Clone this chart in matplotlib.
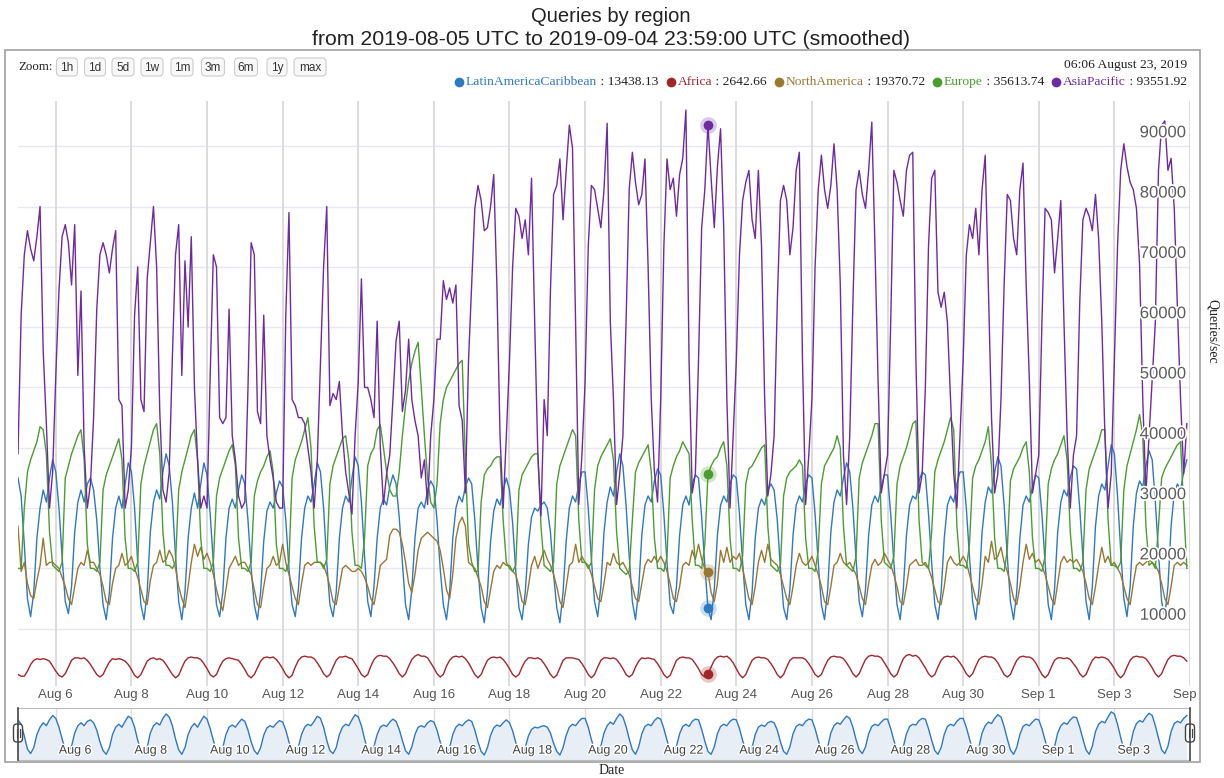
import numpy as np
import matplotlib.pyplot as plt
import matplotlib.patheffects as pe
import matplotlib.transforms as mtransforms
from matplotlib.patches import Rectangle, FancyBboxPatch

# Values every 2 hours (00h, 02h, ... 22h UTC), in thousands of queries/sec.
# One row per day, starting 2019-08-05.
latam = [
    [35, 32, 24, 15, 12, 16, 25, 30, 33, 31, 35, 38],
    [36, 30, 22, 14.5, 12.5, 17, 26, 31, 33, 31, 34, 35],
    [33, 28, 20, 14, 11.5, 16, 25, 30, 32, 30, 34, 37.5],
    [36, 30, 21, 14, 11.5, 16, 26, 31, 33, 31.5, 36, 39],
    [37, 31, 22, 14.5, 11.5, 16, 25, 30, 32.5, 30, 34, 37.5],
    [35.5, 29, 21, 14, 12, 16, 25, 30, 31.5, 30, 33, 35.5],
    [34, 28, 20, 14, 11.5, 16, 24.5, 29.5, 31, 30, 32.5, 34.5],
    [33.5, 28, 20, 14, 12, 16.5, 25, 30, 32, 31, 34, 37.5],
    [36, 30, 21, 14, 12, 16, 25, 30, 32, 31, 35, 38.5],
    [37, 31, 22, 14.5, 12, 17, 25, 30, 31.5, 30.5, 33.5, 35.5],
    [34, 28.5, 21, 14, 11.5, 16.5, 25, 30, 31, 30, 33, 34.5],
    [33.5, 28, 20, 14, 11.5, 16, 25, 30, 32, 31, 33.5, 35],
    [34, 28, 20, 13.5, 11, 16, 24.5, 29.5, 31.5, 30.5, 33, 35],
    [33, 27.5, 19.5, 13.5, 11.5, 16, 24, 28.5, 30, 29.5, 30.5, 31],
    [30, 26, 19, 13.5, 11, 16, 24.5, 30, 32, 31, 34, 36],
    [36, 30, 21.5, 14.5, 12, 17, 26, 31, 33.5, 32, 36, 39],
    [37, 30.5, 22, 14.5, 11.5, 16.5, 25.5, 30.5, 32, 31, 34.5, 36.5],
    [35.5, 29, 21, 14, 12.5, 17, 25.5, 30.5, 32, 30.5, 34, 35.5],
    [35, 28.5, 20.5, 13.4, 11.5, 16.5, 25.5, 30.5, 32, 31, 34, 35.5],
    [35, 29, 21, 14, 11.5, 16, 25, 30, 31.5, 30.5, 33, 34],
    [33, 28, 20, 13.5, 11.5, 16.5, 25.5, 30.5, 32, 31, 34, 35.5],
    [35, 29, 21, 14, 11.5, 16.5, 26, 31, 33, 32, 35, 37.5],
    [36, 30, 21.5, 14.5, 12, 16.5, 25.5, 30.5, 32, 31, 33.5, 35.5],
    [35.5, 29, 21, 14, 11.5, 16.5, 25.5, 30.5, 32, 31.5, 34.5, 36],
    [35.5, 29, 21, 14, 11.5, 16, 25, 30.5, 32, 31, 34, 36],
    [36, 30, 22, 14.5, 11.5, 16.5, 26, 31, 33.5, 32.5, 36, 38.5],
    [37, 30.5, 22, 14.5, 11.5, 16, 25, 30.5, 32, 31, 33.5, 35.5],
    [35, 29, 21, 14, 11.5, 16.5, 26, 31, 33, 32, 35, 37],
    [36.5, 30, 22, 14.5, 11.5, 17, 27, 32, 34, 33, 37, 40.5],
    [39, 32, 23, 15, 12, 17, 27, 32.5, 34.5, 33.5, 37, 39.5],
    [38, 31, 22.5, 14.5, 12, 17, 27, 32.5, 34, 33, 36, 38],
]

africa = [
    [2.6, 2.4, 2.4, 3.0, 3.8, 4.3, 4.5, 4.4, 4.5, 4.4, 4.2, 3.6],
    [3.0, 2.5, 2.3, 2.7, 3.5, 4.3, 4.6, 4.6, 4.5, 4.6, 4.3, 3.8],
    [3.2, 2.6, 2.3, 2.6, 3.4, 4.1, 4.5, 4.4, 4.5, 4.4, 4.2, 3.8],
    [3.2, 2.5, 2.2, 2.6, 3.4, 4.2, 4.5, 4.6, 4.4, 4.5, 4.3, 3.8],
    [3.2, 2.6, 2.2, 2.5, 3.4, 4.2, 4.6, 4.7, 4.6, 4.6, 4.4, 3.9],
    [3.3, 2.6, 2.3, 2.6, 3.5, 4.2, 4.5, 4.6, 4.5, 4.4, 4.3, 3.8],
    [3.2, 2.5, 2.2, 2.6, 3.4, 4.2, 4.6, 4.7, 4.6, 4.7, 4.4, 3.9],
    [3.3, 2.6, 2.2, 2.5, 3.5, 4.3, 4.7, 4.8, 4.7, 4.7, 4.5, 4.0],
    [3.4, 2.7, 2.3, 2.6, 3.5, 4.3, 4.7, 4.7, 4.8, 4.6, 4.5, 3.9],
    [3.3, 2.6, 2.3, 2.6, 3.6, 4.4, 4.8, 4.9, 4.8, 4.8, 4.5, 4.0],
    [3.4, 2.7, 2.3, 2.7, 3.6, 4.4, 4.8, 5.0, 4.8, 4.8, 4.6, 4.0],
    [3.4, 2.7, 2.3, 2.6, 3.6, 4.3, 4.7, 4.8, 4.7, 4.8, 4.5, 4.0],
    [3.3, 2.6, 2.2, 2.6, 3.5, 4.3, 4.6, 4.7, 4.6, 4.7, 4.4, 3.9],
    [3.3, 2.6, 2.3, 2.6, 3.5, 4.2, 4.6, 4.6, 4.5, 4.6, 4.4, 3.9],
    [3.3, 2.6, 2.2, 2.5, 3.4, 4.3, 4.6, 4.6, 4.6, 4.5, 4.4, 3.9],
    [3.3, 2.6, 2.2, 2.6, 3.5, 4.3, 4.6, 4.6, 4.5, 4.6, 4.4, 3.9],
    [3.3, 2.6, 2.3, 2.6, 3.5, 4.2, 4.6, 4.5, 4.6, 4.5, 4.4, 3.9],
    [3.3, 2.6, 2.2, 2.5, 3.4, 4.3, 4.6, 4.7, 4.6, 4.6, 4.4, 3.9],
    [3.3, 2.6, 2.3, 2.64, 3.5, 4.3, 4.7, 4.8, 4.7, 4.8, 4.5, 4.0],
    [3.3, 2.6, 2.2, 2.6, 3.5, 4.3, 4.6, 4.7, 4.6, 4.6, 4.4, 3.9],
    [3.3, 2.6, 2.2, 2.6, 3.5, 4.3, 4.6, 4.6, 4.6, 4.6, 4.4, 3.9],
    [3.3, 2.6, 2.3, 2.6, 3.5, 4.3, 4.7, 4.8, 4.7, 4.7, 4.5, 4.0],
    [3.4, 2.7, 2.3, 2.7, 3.6, 4.4, 4.8, 4.9, 4.8, 4.8, 4.6, 4.0],
    [3.4, 2.7, 2.3, 2.6, 3.6, 4.5, 4.9, 5.0, 4.8, 4.9, 4.6, 4.0],
    [3.4, 2.7, 2.3, 2.6, 3.5, 4.3, 4.7, 4.8, 4.7, 4.8, 4.5, 4.0],
    [3.4, 2.7, 2.3, 2.7, 3.6, 4.4, 4.7, 4.8, 4.7, 4.7, 4.5, 4.0],
    [3.3, 2.6, 2.3, 2.6, 3.5, 4.3, 4.7, 4.8, 4.7, 4.7, 4.5, 4.0],
    [3.3, 2.6, 2.2, 2.6, 3.5, 4.3, 4.6, 4.6, 4.5, 4.6, 4.4, 3.9],
    [3.4, 2.7, 2.3, 2.6, 3.5, 4.3, 4.7, 4.6, 4.7, 4.6, 4.4, 3.9],
    [3.3, 2.6, 2.2, 2.6, 3.5, 4.3, 4.7, 4.8, 4.7, 4.7, 4.5, 4.0],
    [3.4, 2.7, 2.3, 2.7, 3.6, 4.4, 4.8, 4.9, 4.8, 4.8, 4.6, 4.2],
]

north_america = [
    [27, 19.5, 21, 17.5, 15.5, 15, 18, 20.5, 25, 20.5, 21, 21],
    [20.5, 20, 18.5, 17, 15, 14, 17, 20, 21, 20.5, 23, 21],
    [21, 20, 19, 17, 14.5, 14, 17.5, 20, 20.5, 22.5, 20.5, 21],
    [22, 20, 18.5, 16.5, 14.5, 14, 18, 20.5, 21, 23, 21, 21.5],
    [23, 22, 20, 17, 15, 13.5, 17, 21, 24, 22, 23.5, 21.5],
    [22.5, 21, 19, 16.5, 14.5, 13, 16.5, 20, 21, 22, 20.5, 21],
    [21, 20, 19, 16.5, 14, 13.5, 17, 20, 20.5, 22, 20.5, 21],
    [24, 21, 19, 17, 15, 14, 17.5, 20.5, 21, 20.5, 21, 21],
    [21, 20.5, 19, 17, 14.5, 14, 17, 20, 20.5, 20, 19.5, 19.5],
    [20, 19.5, 18.5, 17, 15, 14, 17, 20.5, 21, 21.5, 25.5, 26.5],
    [26.5, 26, 24, 21, 17.5, 16, 19, 23, 25, 25.5, 26, 25.5],
    [25, 24.5, 23, 20, 16.5, 15, 19, 25, 27.5, 28.5, 27, 21],
    [20.5, 20, 18.5, 17, 14.5, 13.5, 16.5, 19.5, 20.5, 20, 21, 20.5],
    [20.5, 19.5, 19, 17, 14.5, 14, 17, 20.5, 22, 20, 21.5, 23],
    [21.5, 20.5, 19, 17, 14.5, 13.5, 17, 20.5, 21, 24, 21, 22],
    [21, 20.5, 19, 17, 15, 14.5, 17.5, 21, 20.5, 22.5, 21, 20.5],
    [21, 20, 19, 17, 15, 14.5, 17.5, 20.5, 21.5, 21, 22, 21],
    [22, 21, 19.5, 17.5, 15, 14.5, 17, 20.5, 21, 20.5, 23, 21.5],
    [24, 21.5, 20, 19.4, 16, 14.5, 17.5, 23, 21, 23.5, 21, 22],
    [21.5, 22.5, 20, 17.5, 15, 14, 17, 21, 23, 21, 24, 21.5],
    [21, 20.5, 19, 17, 15, 14, 17, 20.5, 22.5, 21, 20.5, 21],
    [22, 20.5, 19, 17, 14.5, 14, 17, 20.5, 21, 22.5, 21, 20.5],
    [21, 20, 19, 17, 15, 14, 17.5, 20.5, 21.5, 20.5, 21, 22.5],
    [21.5, 20.5, 19, 17, 14.5, 14, 17, 20.5, 21, 21.5, 20.5, 20.5],
    [21, 20, 18.5, 16.5, 14.5, 14, 17, 21, 22, 21, 20.5, 21],
    [22, 21, 19, 17, 15, 14, 17.5, 22, 21, 24.5, 21.5, 22],
    [23.5, 21, 19.5, 17.5, 15, 14, 17, 21, 24, 21.5, 22.5, 21],
    [21.5, 20.5, 19, 17, 15, 14, 17.5, 21, 22, 21, 21.5, 21],
    [21.5, 20.5, 19.5, 17.5, 15, 14, 17, 20.5, 23.5, 21, 22, 20.5],
    [21, 20, 19, 17, 15, 14, 17.5, 20.5, 21, 20.5, 21, 21.5],
    [21, 20.5, 19.5, 17.5, 15, 14, 17, 20.5, 21, 20.5, 21, 20.5],
]

europe = [
    [20, 20, 30, 36, 38, 39.5, 41, 43.5, 43, 39, 26, 20.5],
    [20, 19.5, 21, 35, 37, 39, 40.5, 42, 43, 38, 24, 20],
    [20, 19.5, 21, 33, 35.5, 37, 38.5, 40, 41.5, 38, 25, 20],
    [20, 19.5, 21, 34, 37, 39, 41, 43, 44, 39, 26, 20.5],
    [20.5, 20, 21, 33, 36, 38, 40, 42, 43, 38, 25, 20],
    [20, 19.5, 21, 32, 35, 36.5, 38, 39.5, 40.5, 37, 25, 20],
    [20, 19.5, 21, 32, 34.5, 36, 37, 38.5, 39.5, 36, 24, 20],
    [20, 19.5, 21, 35, 38, 39.5, 41, 43, 45, 40, 27, 21],
    [21, 20, 21.5, 34, 37, 38.5, 40, 41.5, 42, 38, 26, 20.5],
    [20.5, 20, 25, 37, 39, 40, 43, 43.8, 40, 36, 33, 32],
    [32, 36, 42, 47, 51, 54, 56, 57.5, 50, 42, 35, 31],
    [30, 34, 44, 48, 50, 51, 52, 53, 54, 54.5, 38, 24],
    [21, 19.5, 19.5, 31, 35.5, 36.5, 37, 38, 38.5, 38.5, 28, 21],
    [20, 19.5, 20.5, 33, 35.5, 36.5, 37.5, 38.5, 39, 39, 27, 20.5],
    [20, 19.5, 21, 34, 37, 38.5, 40, 41.5, 43, 42, 28, 21],
    [21, 20, 21, 33, 37, 38.5, 39.5, 40.5, 41.5, 38, 26, 20],
    [19.5, 19, 19.5, 28, 36, 37.5, 38.5, 39.5, 40.5, 36, 25, 20],
    [20, 19.5, 22, 35, 37, 38.5, 39.5, 41, 40, 39, 28, 20.5],
    [20.5, 20, 24, 35.6, 37, 38, 38.5, 40, 41, 37, 25, 20],
    [20, 19.5, 22, 34, 36.5, 37, 38, 39, 40, 40.5, 27, 20.5],
    [20, 19.5, 20.5, 32, 35, 36, 36.5, 37, 38, 37, 25, 20],
    [20, 19.5, 23, 34, 37, 38, 39, 40, 42, 40, 27, 20.5],
    [20, 19.5, 22, 35, 37.5, 39, 40.5, 42, 44, 44, 28, 21],
    [20.5, 20, 22, 34, 37, 38.5, 40, 42, 44, 44.5, 28, 21],
    [20.5, 20, 26, 36, 38, 39.5, 41, 43, 45, 43, 27, 20.5],
    [20.5, 20, 24, 35, 37, 38, 39.5, 41, 43.5, 37, 25, 20],
    [20, 19.5, 23, 34.5, 36.5, 37.5, 38.5, 40, 41, 36, 25, 20],
    [20, 19.5, 22, 34, 36.5, 38, 39, 40.5, 42, 38, 26, 20],
    [20, 19.5, 21, 33, 36.5, 38, 39.5, 41, 43, 43, 28, 20.5],
    [20.5, 20, 21, 33, 37, 39, 41, 43, 45.5, 42, 27, 20.5],
    [21, 20, 27, 35, 36.5, 37.5, 38.5, 39.5, 40.5, 41, 30, 20],
]

asia_pacific = [
    [39, 62, 72, 76, 73, 71, 75, 80, 56, 44, 30, 36],
    [52, 66, 75, 77, 74, 67, 77, 52, 66, 40, 30, 34],
    [45, 63, 72, 74, 72, 69, 73, 76, 48, 47, 30, 33],
    [40, 62, 70, 48, 46, 68, 74, 80, 70, 46, 33, 31],
    [36, 55, 72, 77, 52, 71, 60, 75, 50, 38, 30, 32],
    [30, 52, 72, 70, 45, 44, 45, 63, 42, 38, 32, 30],
    [31, 50, 74, 72, 46, 44, 62, 42, 38, 35, 31, 30],
    [30, 62, 79, 48, 47, 45, 45, 44, 40, 36, 30, 38],
    [54, 70, 80, 47, 49, 48, 51, 42, 36, 32.5, 29, 42],
    [51, 68, 50, 50, 48, 45, 61, 40, 30.6, 35.7, 38.8, 48],
    [57.7, 61, 46, 49.5, 58, 48, 44.5, 42, 35, 38, 30.6, 42],
    [48, 58, 58, 67.7, 64.6, 66.5, 64, 67, 47, 44.5, 32.5, 54.5],
    [67, 79.7, 83.5, 81, 76, 76.5, 80, 85.3, 67, 42, 30, 42],
    [54.5, 70, 79.7, 78.4, 74.7, 77.8, 72, 84.7, 60.8, 38.8, 28.7, 48],
    [42, 66, 82, 83.5, 87.9, 77.8, 86, 93.5, 89.7, 60, 30.6, 38.8],
    [51, 73.4, 83.5, 82.8, 79.7, 76.5, 82.8, 93.8, 61, 48, 30.6, 35.7],
    [42, 60.8, 82.8, 89, 84, 80.3, 82, 87.9, 70, 48, 36, 31],
    [48, 73.4, 87.9, 82.8, 84.7, 78.4, 85.3, 88, 96, 54.5, 32.5, 35.7],
    [54.5, 76.5, 82.8, 93.6, 84.7, 76.5, 86.6, 92.9, 76.5, 48, 30, 42],
    [54.5, 72, 81, 84, 86, 77.8, 74.7, 86, 73.4, 48, 32, 35.7],
    [42, 64, 81, 83.5, 81, 72, 76.5, 86, 89, 54.5, 30.6, 38.8],
    [48, 70, 82.8, 88.5, 82.8, 79.7, 83.5, 90.4, 82.8, 67, 38.8, 30.6],
    [42, 64, 82.8, 86, 82, 79.7, 86, 94, 73.4, 51, 32.5, 35.7],
    [38.8, 60.8, 86, 84, 81, 78.4, 86, 88.5, 89, 54.5, 32.5, 35.7],
    [50, 73.4, 84.7, 86, 65.8, 63.3, 65.8, 60.8, 48, 35.7, 30, 42],
    [54.5, 72, 77, 74.7, 79.7, 72, 82.8, 88.5, 67, 45, 32.5, 35.7],
    [48, 67, 82, 81, 74.7, 72, 82.8, 87.2, 67, 51.4, 32.5, 35.7],
    [38.8, 60.8, 79.7, 79, 77.8, 69, 74.7, 81, 60.8, 42, 30, 38.8],
    [42, 64, 77.8, 79.7, 78.4, 76, 82, 74.7, 60.8, 42, 30, 35.7],
    [54.5, 73.4, 86, 90.4, 86.6, 84, 82.8, 79.7, 70.3, 48.2, 32.5, 42],
    [51.4, 60.8, 86, 93.5, 94.2, 86, 88, 79.7, 63.3, 48.2, 35.7, 44],
]

names = ['LatinAmericaCaribbean', 'Africa', 'NorthAmerica', 'Europe', 'AsiaPacific']
colors = ['#2f78c4', '#a1262a', '#9b7731', '#4a9d2f', '#6e2aa3']
hover_values = ['13438.13', '2642.66', '19370.72', '35613.74', '93551.92']
hover_time = '06:06 August 23, 2019'
hover_day = 18 + (6 + 6 / 60) / 24   # days after Aug 5 00:00 UTC

tick_days = [1, 3, 5, 7, 9, 11, 13, 15, 17, 19, 21, 23, 25, 27, 29, 31]
tick_labels = ['Aug 6', 'Aug 8', 'Aug 10', 'Aug 12', 'Aug 14', 'Aug 16', 'Aug 18', 'Aug 20',
               'Aug 22', 'Aug 24', 'Aug 26', 'Aug 28', 'Aug 30', 'Sep 1', 'Sep 3', 'Sep 5']
y_ticks = [10000, 20000, 30000, 40000, 50000, 60000, 70000, 80000, 90000]
zoom_buttons = ['1h', '1d', '5d', '1w', '1m', '3m', '6m', '1y', 'max']

series = [np.array(s).ravel() * 1000 for s in (latam, africa, north_america, europe, asia_pacific)]
t = np.arange(len(series[0])) / 12.0   # 2-hour steps, in days

SANS = 'Liberation Sans'
SERIF = 'Liberation Serif'
W, H = 1224, 778

fig = plt.figure(figsize=(W / 100, H / 100), dpi=100)

# main pane
rect = [18 / W, 1 - 686 / H, 1172 / W, 585 / H]
ax = fig.add_axes(rect)
ax.set_xlim(0, 31)
ax.set_ylim(500, 97500)
for s in ax.spines.values():
    s.set_visible(False)
ax.set_yticks([])
ax.set_xticks(tick_days, tick_labels)
ax.tick_params(axis='x', length=0, pad=2, labelsize=9.5, labelcolor='#555555')
for lbl in ax.get_xticklabels():
    lbl.set_family(SANS)
ax.get_xticklabels()[-1].set_clip_box(mtransforms.Bbox.from_extents(0, 0, 1197, H))
ax.get_xticklabels()[-1].set_clip_on(True)
ax.grid(axis='x', color='#d9d9d9', lw=1.3)
ax.set_axisbelow(True)
for v in y_ticks:
    ax.axhline(v, color='#e8e8f2', lw=1, zorder=0)

lab_tr = mtransforms.offset_copy(ax.get_yaxis_transform(), fig=fig, x=-4, y=13.5, units='dots')
for v in y_ticks:
    ax.text(1.0, v, str(v), transform=lab_tr, ha='right', va='center', fontsize=12,
            family=SANS, color='#5c5c5c', zorder=8,
            path_effects=[pe.withStroke(linewidth=2.5, foreground='white')])

for i in (0, 2, 3, 4):
    ax.plot(t, series[i], color=colors[i], lw=1.0, zorder=3)

# Africa sits in its own small pane at the bottom
ax_af = fig.add_axes(rect)
ax_af.patch.set_visible(False)
ax_af.axis('off')
ax_af.set_xlim(0, 31)
ax_af.set_ylim(1220, 71450)
ax_af.plot(t, series[1], color=colors[1], lw=1.0)

# hovered point markers
hv = [float(v) for v in hover_values]
for i in range(5):
    target = ax_af if i == 1 else ax
    target.plot(hover_day, hv[i], 'o', ms=12, color=colors[i], alpha=0.25, mec='none', zorder=9)
    target.plot(hover_day, hv[i], 'o', ms=7, color=colors[i], mec='none', zorder=10)

# navigator
nav = fig.add_axes([18 / W, 1 - 760 / H, 1172 / W, 52 / H])
nav.set_xlim(0, 31)
nav.set_ylim(7600, 43100)
nav.set_xticks([])
nav.set_yticks([])
for side in ('left', 'right'):
    nav.spines[side].set_visible(False)
for side in ('top', 'bottom'):
    nav.spines[side].set_color('#bbbbbb')
for d in tick_days:
    nav.axvline(d, color='#dddddd', lw=1, zorder=0)
nav.fill_between(t, series[0], 7600, color='#e8eef6', lw=0, zorder=1)
nav.plot(t, series[0], color=colors[0], lw=1, zorder=2)
nav_tr = mtransforms.offset_copy(nav.get_xaxis_transform(), fig=fig, x=3, y=0, units='dots')
for d, lbl in zip(tick_days[:-1], tick_labels[:-1]):
    nav.text(d, 0.18, lbl, transform=nav_tr, ha='left', va='center', fontsize=9,
             family=SANS, color='#444444', zorder=3,
             path_effects=[pe.withStroke(linewidth=2, foreground='white')])

# overlay in pixel coordinates for the chart furniture
ov = fig.add_axes([0, 0, 1, 1], zorder=10)
ov.set_xlim(0, W)
ov.set_ylim(H, 0)
ov.axis('off')
ov.patch.set_visible(False)

ov.add_patch(Rectangle((5, 50), 1195, 712, fill=False, ec='#a0a0a0', lw=1.2))

ov.text(611, 16, 'Queries by region', ha='center', va='center', fontsize=14.5, family=SANS, color='#222222')
ov.text(611, 39, 'from 2019-08-05 UTC to 2019-09-04 23:59:00 UTC (smoothed)', ha='center', va='center',
        fontsize=15.3, family=SANS, color='#222222')

ov.text(18, 67, 'Zoom:', ha='left', va='center', fontsize=9.3, family=SERIF, color='#222222')
bx = [67, 95, 123, 152, 182, 213, 246, 277, 310]
bw = [21, 21, 22, 22, 22, 23, 23, 20, 32]
for lbl, cx, w in zip(zoom_buttons, bx, bw):
    ov.add_patch(FancyBboxPatch((cx - w / 2, 58), w, 18, boxstyle='round,pad=0,rounding_size=4',
                                fc='#f8f8f8', ec='#cccccc', lw=0.8))
    ov.text(cx, 67.5, lbl, ha='center', va='center', fontsize=8.5, family=SANS, color='#333333')

ov.text(1187, 65, hover_time, ha='right', va='center', fontsize=9.7, family=SERIF, color='#222222')

# legend, laid out right to left
renderer = fig.canvas.get_renderer()
x = 1187
for name, val, col in reversed(list(zip(names, hover_values, colors))):
    tv = ov.text(x, 82, ' : ' + val, ha='right', va='center', fontsize=9.7, family=SERIF, color='#222222')
    x -= tv.get_window_extent(renderer).width
    tn = ov.text(x, 82, name, ha='right', va='center', fontsize=9.7, family=SERIF, color=col)
    x -= tn.get_window_extent(renderer).width
    x -= 7
    ov.plot(x, 82, 'o', ms=7, color=col, mec='none')
    x -= 12

ov.text(1212, 331, 'Queries/sec', rotation=-90, ha='center', va='center', fontsize=10, family=SERIF, color='#222222')
ov.text(612, 771, 'Date', ha='center', va='center', fontsize=10, family=SERIF, color='#222222')

# navigator handles
for hx in (18, 1190):
    ov.plot([hx, hx], [708, 760], color='#444444', lw=1.2)
    ov.add_patch(FancyBboxPatch((hx - 4.5, 724), 9, 18, boxstyle='round,pad=0,rounding_size=3.5',
                                fc='white', ec='#444444', lw=1))
    ov.plot([hx - 1.5, hx - 1.5], [729, 737], color='#444444', lw=0.8)
    ov.plot([hx + 1.5, hx + 1.5], [729, 737], color='#444444', lw=0.8)

plt.savefig('out.png', dpi=100)
